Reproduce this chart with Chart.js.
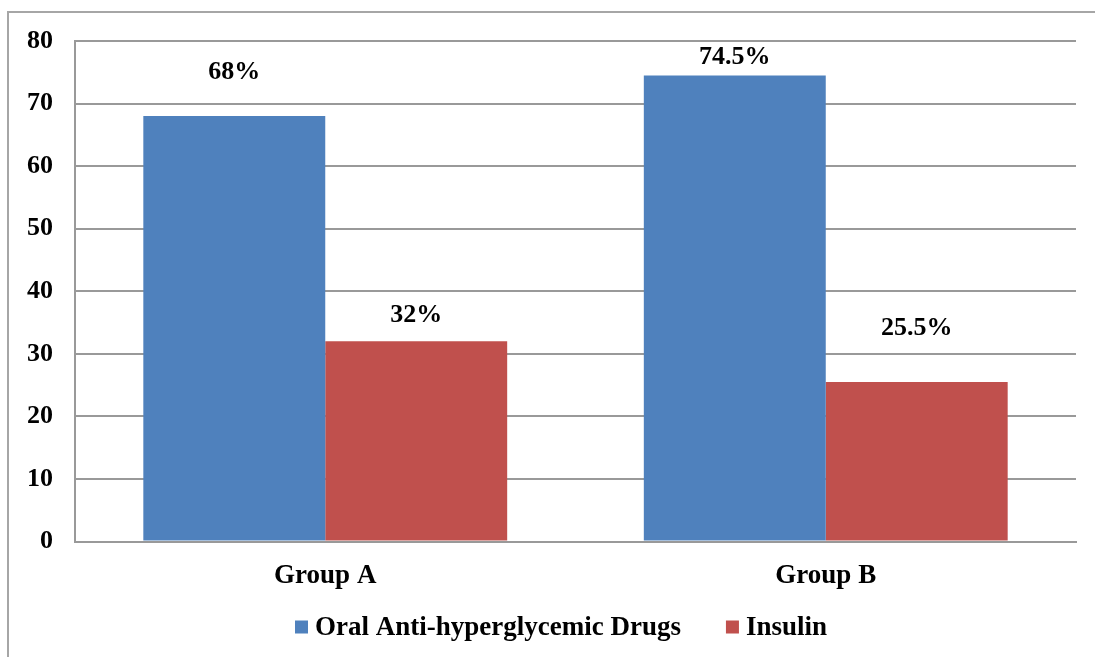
<!DOCTYPE html>
<html>
<head>
<meta charset="utf-8">
<script src="https://cdn.jsdelivr.net/npm/chart.js@4.4.1/dist/chart.umd.min.js"></script>
<style>
  html, body { margin: 0; padding: 0; background: #fff; overflow: hidden; }
  #frame { position: absolute; left: 7px; top: 11px; width: 1200px; height: 800px;
           border-left: 2px solid #a6a6a6; border-top: 2px solid #a6a6a6; }
  #wrap { position: absolute; left: 0; top: 0; width: 1095px; height: 657px; }
</style>
</head>
<body>
<div id="frame"></div>
<div id="wrap"><canvas id="chart"></canvas></div>
<script>
const categories = ['Group A', 'Group B'];
const seriesNames = ['Oral Anti-hyperglycemic Drugs', 'Insulin'];
const seriesColors = ['#4F81BD', '#C0504D'];
const oralValues = [68, 74.5];
const insulinValues = [32, 25.5];
const labelTexts = [['68%', '74.5%'], ['32%', '25.5%']];
// how far above each bar top the value label sits, in pixels
const labelLift = [[44, 18], [26, 54]];

const FONT = '"Liberation Serif", "Times New Roman", serif';

const valueLabels = {
    id: 'valueLabels',
    afterDatasetsDraw(chart) {
        const ctx = chart.ctx;
        ctx.save();
        ctx.font = 'bold 26px ' + FONT;
        ctx.fillStyle = '#000';
        ctx.textAlign = 'center';
        ctx.textBaseline = 'middle';
        chart.data.datasets.forEach((ds, i) => {
            chart.getDatasetMeta(i).data.forEach((bar, j) => {
                ctx.fillText(labelTexts[i][j], bar.x, bar.y - labelLift[i][j]);
            });
        });
        ctx.restore();
    }
};

// legend drawn by hand so the box/text gap and item spacing match the original
const bottomLegend = {
    id: 'bottomLegend',
    afterDraw(chart) {
        const ctx = chart.ctx;
        const box = 13, gap = 7, itemGap = 45, cy = 627, cx = 561;
        ctx.save();
        ctx.font = 'bold 27px ' + FONT;
        ctx.textBaseline = 'middle';
        const widths = chart.data.datasets.map(ds => ctx.measureText(ds.label).width);
        const total = widths.reduce((a, w) => a + box + gap + w, 0) + itemGap * (widths.length - 1);
        let x = cx - total / 2;
        chart.data.datasets.forEach((ds, i) => {
            ctx.fillStyle = ds.backgroundColor;
            ctx.fillRect(x, cy - box / 2, box, box);
            ctx.fillStyle = '#000';
            ctx.fillText(ds.label, x + box + gap, cy + 1);
            x += box + gap + widths[i] + itemGap;
        });
        ctx.restore();
    }
};

new Chart(document.getElementById('chart'), {
    type: 'bar',
    data: {
        labels: categories,
        datasets: [
            { label: seriesNames[0], data: oralValues, backgroundColor: seriesColors[0] },
            { label: seriesNames[1], data: insulinValues, backgroundColor: seriesColors[1] }
        ]
    },
    options: {
        responsive: true,
        maintainAspectRatio: false,
        animation: false,
        layout: { padding: { left: 0, right: 19, top: 41, bottom: 47 } },
        datasets: { bar: { categoryPercentage: 0.727, barPercentage: 1 } },
        scales: {
            x: {
                grid: { display: false, drawTicks: false },
                border: { display: true, color: '#999', width: 2 },
                ticks: { color: '#000', font: { family: FONT, size: 27, weight: 'bold' }, padding: 18 }
            },
            y: {
                min: 0, max: 80,
                afterFit(axis) { axis.width = 75; },
                grid: { color: '#999', lineWidth: 2, drawTicks: false },
                border: { display: true, color: '#999', width: 2 },
                ticks: { stepSize: 10, color: '#000', font: { family: FONT, size: 26, weight: 'bold' }, padding: 22 }
            }
        },
        plugins: {
            legend: { display: false },
            tooltip: { enabled: false }
        }
    },
    plugins: [valueLabels, bottomLegend]
});
</script>
</body>
</html>
